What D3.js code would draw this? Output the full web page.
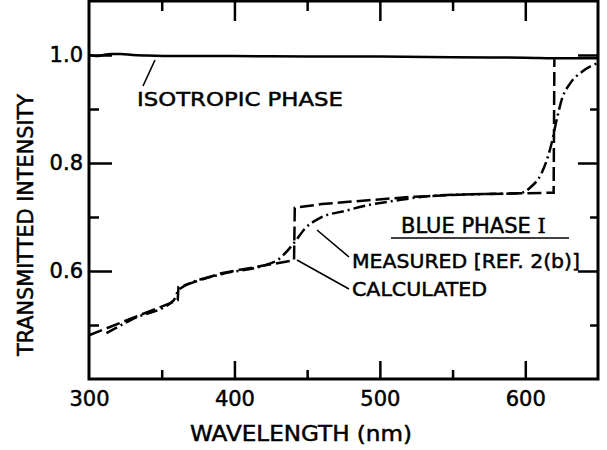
<!DOCTYPE html>
<html lang="en">
<head>
    <meta charset="UTF-8">
    <title>Blue phase transmission</title>
    <script src="https://d3js.org/d3.v7.min.js"></script>
    <style>
        body {
            margin: 0;
            background: #fff;
        }
        svg text {
            font-family: "DejaVu Sans", sans-serif;
            fill: #000;
            stroke: #000;
            stroke-width: 0.5px;
        }
        .frame {
            fill: none;
            stroke: #000;
            stroke-width: 3px;
        }
        .tick line {
            stroke: #000;
            stroke-width: 2.5px;
        }
        .domain {
            display: none;
        }
        .curve {
            fill: none;
            stroke: #000;
            stroke-width: 2.5px;
        }
        .leader {
            stroke: #000;
            stroke-width: 1.6px;
        }
    </style>
</head>
<body>
    <div id="chart"></div>
    <script>
        // isotropic phase (solid)
        const isoWl = [300, 305, 310, 315, 322, 330, 340, 360, 400, 450, 500, 550, 600, 625, 650];
        const isoT  = [1.000, 0.998, 1.000, 1.002, 1.002, 1.000, 0.999, 0.998, 0.998, 0.997, 0.997, 0.996, 0.995, 0.994, 0.994];

        // blue phase I, calculated (dashed)
        const calcWl = [300, 330, 361, 361.5, 391, 420, 441, 441.5, 460, 492, 520, 560, 600, 619.5, 620];
        const calcT  = [0.481, 0.513, 0.546, 0.570, 0.596, 0.610, 0.620, 0.717, 0.724, 0.731, 0.737, 0.742, 0.744, 0.745, 0.992];

        // blue phase I, measured [ref. 2(b)] (dash-dot)
        const measWl = [312, 330, 358, 362, 391, 420, 430, 441, 449, 458, 477, 492, 510, 540, 582, 596, 604, 611, 617.5, 622, 625, 631, 639, 648, 650];
        const measT  = [0.485, 0.511, 0.545, 0.566, 0.594, 0.610, 0.621, 0.652, 0.680, 0.697, 0.712, 0.722, 0.730, 0.740, 0.743, 0.744, 0.756, 0.780, 0.830, 0.885, 0.917, 0.948, 0.969, 0.983, 0.985];

        const xMajor = [300, 400, 500, 600];
        const xMinor = [350, 450, 550];
        const yMajor = [0.6, 0.8, 1.0];
        const yMinor = [0.5, 0.7, 0.9];

        const width = 607, height = 450;
        const plotLeft = 89, plotRight = 598, plotTop = 1, plotBottom = 379;

        const x = d3.scaleLinear().domain([300, 650]).range([plotLeft, plotRight]);
        const y = d3.scaleLinear().domain([0.4, 1.1]).range([plotBottom, plotTop]);

        const svg = d3.select("#chart").append("svg")
            .attr("width", width)
            .attr("height", height);

        // ticks on all four sides, pointing inward
        const tickAxis = (axis, vals, size, tx, ty) => svg.append("g")
            .attr("transform", `translate(${tx},${ty})`)
            .call(axis.tickValues(vals).tickSize(-size).tickFormat(""));

        tickAxis(d3.axisBottom(x), [400, 500, 600], 18, 0, plotBottom);
        tickAxis(d3.axisBottom(x), xMinor, 9, 0, plotBottom);
        tickAxis(d3.axisTop(x), [400, 500, 600], 20, 0, plotTop);
        tickAxis(d3.axisTop(x), xMinor, 10, 0, plotTop);
        tickAxis(d3.axisLeft(y), yMajor, 23, plotLeft, 0);
        tickAxis(d3.axisLeft(y), yMinor, 10, plotLeft, 0);
        tickAxis(d3.axisRight(y), yMajor, 20, plotRight, 0);
        tickAxis(d3.axisRight(y), yMinor, 8, plotRight, 0);

        // tick labels
        svg.append("g")
            .attr("transform", `translate(0,${plotBottom})`)
            .call(d3.axisBottom(x).tickValues(xMajor).tickSize(0).tickPadding(12).tickFormat(d3.format("d")))
            .selectAll("text").style("font-size", "21px");

        svg.append("g")
            .attr("transform", `translate(${plotLeft},0)`)
            .call(d3.axisLeft(y).tickValues(yMajor).tickSize(0).tickPadding(6).tickFormat(d3.format(".1f")))
            .selectAll("text").style("font-size", "21px");

        svg.append("rect")
            .attr("class", "frame")
            .attr("x", plotLeft).attr("y", plotTop)
            .attr("width", plotRight - plotLeft).attr("height", plotBottom - plotTop);

        // curves
        const zip = (a, b) => a.map((v, i) => [v, b[i]]);
        const line = d3.line().x(d => x(d[0])).y(d => y(d[1]));
        const smooth = d3.line().x(d => x(d[0])).y(d => y(d[1])).curve(d3.curveMonotoneX);

        svg.append("path").attr("class", "curve")
            .attr("stroke-width", 2.2)
            .attr("d", smooth(zip(isoWl, isoT)));

        svg.append("path").attr("class", "curve")
            .attr("stroke-dasharray", "14 5")
            .attr("d", line(zip(calcWl, calcT)));

        svg.append("path").attr("class", "curve")
            .attr("stroke-dasharray", "12 4 2 4")
            .attr("d", smooth(zip(measWl, measT)));

        // axis titles
        svg.append("text")
            .attr("x", 301).attr("y", 441)
            .attr("text-anchor", "middle")
            .attr("textLength", 222)
            .attr("lengthAdjust", "spacingAndGlyphs")
            .style("font-size", "22px")
            .text("WAVELENGTH (nm)");

        svg.append("text")
            .attr("transform", "translate(33,225) rotate(-90)")
            .attr("text-anchor", "middle")
            .attr("textLength", 262)
            .attr("lengthAdjust", "spacingAndGlyphs")
            .style("font-size", "21px")
            .text("TRANSMITTED INTENSITY");

        // annotations
        svg.append("line").attr("class", "leader")
            .attr("x1", 143).attr("y1", 86).attr("x2", 155).attr("y2", 60);
        svg.append("text")
            .attr("x", 137).attr("y", 106)
            .attr("textLength", 206)
            .attr("lengthAdjust", "spacingAndGlyphs")
            .style("font-size", "20px")
            .text("ISOTROPIC PHASE");

        const blue = svg.append("text")
            .attr("x", 401).attr("y", 233)
            .style("font-size", "21px");
        blue.append("tspan").text("BLUE PHASE ");
        blue.append("tspan").style("font-family", "\"DejaVu Serif\", serif").text("I");
        svg.append("line").attr("class", "leader")
            .attr("x1", 391).attr("y1", 238).attr("x2", 569).attr("y2", 238);

        svg.append("line").attr("class", "leader")
            .attr("x1", 317).attr("y1", 230).attr("x2", 349).attr("y2", 257);
        svg.append("text")
            .attr("x", 352).attr("y", 268)
            .attr("textLength", 228)
            .attr("lengthAdjust", "spacingAndGlyphs")
            .style("font-size", "20px")
            .text("MEASURED [REF. 2(b)]");

        svg.append("line").attr("class", "leader")
            .attr("x1", 297).attr("y1", 260).attr("x2", 349).attr("y2", 289);
        svg.append("text")
            .attr("x", 352).attr("y", 296)
            .attr("textLength", 135)
            .attr("lengthAdjust", "spacingAndGlyphs")
            .style("font-size", "20px")
            .text("CALCULATED");
    </script>
</body>
</html>
